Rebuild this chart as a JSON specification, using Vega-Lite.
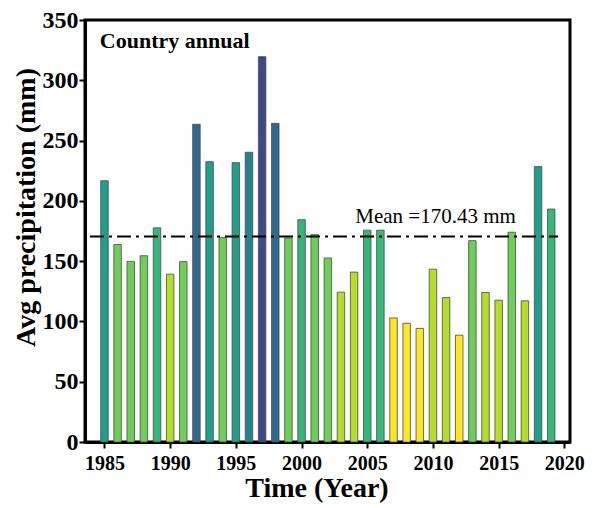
{
  "$schema": "https://vega.github.io/schema/vega-lite/v6.json",
  "width": 485,
  "height": 422,
  "autosize": {"type": "none"},
  "padding": {"left": 85, "top": 20, "right": 25, "bottom": 66},
  "background": "white",
  "config": {
    "view": {"stroke": "black", "strokeWidth": 3},
    "axis": {"domainColor": "black", "domainWidth": 3, "tickColor": "black", "tickWidth": 2, "grid": false, "labelFont": "Liberation Serif, Times New Roman, DejaVu Serif, serif", "labelFontWeight": "bold", "labelColor": "black", "titleFont": "Liberation Serif, Times New Roman, DejaVu Serif, serif", "titleFontWeight": "bold", "titleColor": "black"}
  },
  "layer": [
    {
      "data": {
        "values": [
          {"year": 1985, "value": 216.7},
          {"year": 1986, "value": 163.8},
          {"year": 1987, "value": 149.8},
          {"year": 1988, "value": 154.5},
          {"year": 1989, "value": 177.6},
          {"year": 1990, "value": 139.2},
          {"year": 1991, "value": 149.6},
          {"year": 1992, "value": 263.5},
          {"year": 1993, "value": 232.5},
          {"year": 1994, "value": 169.5},
          {"year": 1995, "value": 231.7},
          {"year": 1996, "value": 240.3},
          {"year": 1997, "value": 319.6},
          {"year": 1998, "value": 264.3},
          {"year": 1999, "value": 169.2},
          {"year": 2000, "value": 184.4},
          {"year": 2001, "value": 172.0},
          {"year": 2002, "value": 152.6},
          {"year": 2003, "value": 124.3},
          {"year": 2004, "value": 140.9},
          {"year": 2005, "value": 175.7},
          {"year": 2006, "value": 175.7},
          {"year": 2007, "value": 102.9},
          {"year": 2008, "value": 98.5},
          {"year": 2009, "value": 94.2},
          {"year": 2010, "value": 143.3},
          {"year": 2011, "value": 119.8},
          {"year": 2012, "value": 88.6},
          {"year": 2013, "value": 167.0},
          {"year": 2014, "value": 124.0},
          {"year": 2015, "value": 117.6},
          {"year": 2016, "value": 174.0},
          {"year": 2017, "value": 117.1},
          {"year": 2018, "value": 228.4},
          {"year": 2019, "value": 193.2}
        ]
      },
      "mark": {"type": "bar", "width": 7.5, "stroke": "#4a4a4a", "strokeWidth": 0.8},
      "encoding": {
        "x": {
          "field": "year", "type": "quantitative",
          "scale": {"domain": [1983.9, 2020.05], "nice": false, "zero": false},
          "axis": {
            "values": [1985, 1987.5, 1990, 1992.5, 1995, 1997.5, 2000, 2002.5, 2005, 2007.5, 2010, 2012.5, 2015, 2017.5, 2020],
            "labelExpr": "datum.value % 5 === 0 ? datum.value : ''",
            "tickSize": {"condition": {"test": "datum.value % 5 === 0", "value": 6}, "value": 3.5},
            "labelFontSize": 20,
            "labelPadding": 5,
            "labelFlush": false,
            "labelOverlap": false,
            "title": "Time (Year)",
            "titleFontSize": 28,
            "titleX": 231.5,
            "titleY": 32,
            "titleAnchor": "start",
            "titleAlign": "center",
            "titleBaseline": "top"
          }
        },
        "y": {
          "field": "value", "type": "quantitative",
          "scale": {"domain": [0, 350], "nice": false},
          "axis": {
            "values": [0, 25, 50, 75, 100, 125, 150, 175, 200, 225, 250, 275, 300, 325, 350],
            "labelExpr": "datum.value % 50 === 0 ? datum.value : ''",
            "tickSize": {"condition": {"test": "datum.value % 50 === 0", "value": 6}, "value": 3.5},
            "labelFontSize": 24,
            "labelPadding": 1,
            "labelFlush": false,
            "labelOverlap": false,
            "title": "Avg precipitation (mm)",
            "titleFontSize": 28,
            "titleAngle": -90,
            "titleBaseline": "middle",
            "titleAlign": "center",
            "titleX": -58.5,
            "titleY": 187
          }
        },
        "color": {
          "field": "value", "type": "quantitative",
          "scale": {
            "type": "threshold",
            "domain": [110, 147, 175, 205, 237, 250, 300],
            "range": ["#fde725", "#b5de2b", "#6ece58", "#35b779", "#1f9e89", "#26828e", "#31688e", "#3e4989"]
          },
          "legend": null
        }
      }
    },
    {
      "data": {"values": [{"mean": 170.43, "start": 1983.9, "end": 2019.52}]},
      "mark": {"type": "rule", "color": "black", "strokeWidth": 2.2, "strokeDash": [14, 5, 3, 5]},
      "encoding": {
        "x": {"field": "start", "type": "quantitative"},
        "x2": {"field": "end"},
        "y": {"field": "mean", "type": "quantitative"}
      }
    },
    {
      "data": {"values": [{"label": "Mean =170.43 mm", "x": 2010.2, "y": 181.5}]},
      "mark": {"type": "text", "font": "Liberation Serif, Times New Roman, DejaVu Serif, serif", "fontSize": 21, "fontWeight": "normal", "fill": "black", "align": "center", "baseline": "alphabetic"},
      "encoding": {
        "x": {"field": "x", "type": "quantitative"},
        "y": {"field": "y", "type": "quantitative"},
        "text": {"field": "label"}
      }
    },
    {
      "data": {"values": [{"label": "Country annual", "x": 1984.65, "y": 326.8}]},
      "mark": {"type": "text", "font": "Liberation Serif, Times New Roman, DejaVu Serif, serif", "fontSize": 22, "fontWeight": "bold", "fill": "black", "align": "left", "baseline": "alphabetic"},
      "encoding": {
        "x": {"field": "x", "type": "quantitative"},
        "y": {"field": "y", "type": "quantitative"},
        "text": {"field": "label"}
      }
    }
  ]
}
